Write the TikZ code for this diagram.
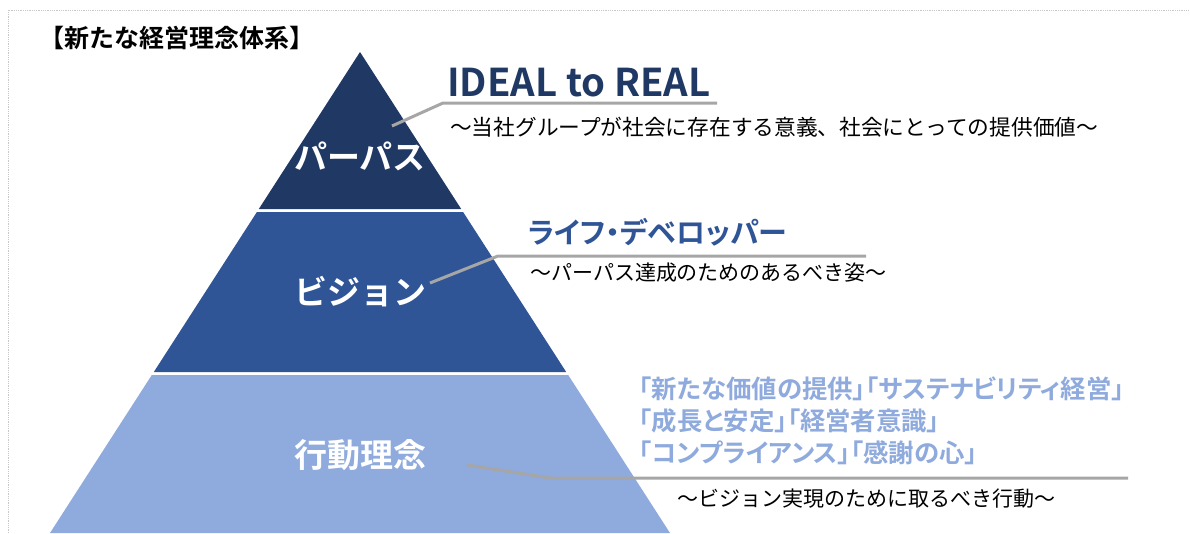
\documentclass[tikz,border=0pt]{standalone}
\usepackage{fontspec}
\setmainfont{Noto Sans CJK JP}[BoldFont={Noto Sans CJK JP Bold}]
\definecolor{navy}{HTML}{203864}
\definecolor{midblue}{HTML}{2F5597}
\definecolor{lightblue}{HTML}{8FAADC}
\definecolor{leadergray}{HTML}{A6A6A6}
\definecolor{framegray}{HTML}{C8C8C8}
\tikzset{
  tiertext/.style={text=white,font=\bfseries\fontsize{33}{33}\selectfont,anchor=base,inner sep=0pt},
  subtext/.style={font=\fontsize{21}{21}\selectfont,anchor=base west,inner sep=0pt},
  valuetext/.style={text=lightblue,font=\bfseries\fontsize{25.4}{25.4}\selectfont\addfontfeatures{RawFeature=+palt},anchor=base west,inner sep=0pt},
  leaderline/.style={draw=leadergray,line width=3pt},
}
\begin{document}
\begin{tikzpicture}[x=1pt,y=-1pt]
\useasboundingbox (0,0) rectangle (1190,533);
\clip (0,0) rectangle (1190,533);
% frame
\draw[framegray,densely dotted,line width=0.8pt] (8,533) -- (8,10) -- (1190,10);
% title
\node[anchor=base west,inner sep=0pt,font=\bfseries\fontsize{25}{25}\selectfont] (title) at (39,47.5) {【新たな経営理念体系】};
% pyramid tiers
\fill[navy] (360,52) -- (461.2,209) -- (258.8,209) -- cycle;
\fill[midblue] (256.9,212) -- (463.1,212) -- (566.2,372) -- (153.8,372) -- cycle;
\fill[lightblue] (151.8,375) -- (568.2,375) -- (670,533) -- (50,533) -- cycle;
% tier labels
\node[tiertext] (purpose) at (360,169.5) {パーパス};
\node[tiertext] (vision) at (360,304.5) {ビジョン};
\node[tiertext] (philo) at (360,467.5) {行動理念};
% purpose texts
\node[anchor=base west,inner sep=0pt,text=navy,font=\bfseries\fontsize{38.3}{38.3}\selectfont] (ideal) at (447,96) {IDEAL to REAL};
\node[subtext,font=\fontsize{21.7}{21.7}\selectfont] (sub1) at (450,135) {～当社グループが社会に存在する意義、社会にとっての提供価値～};
% vision texts
\node[anchor=base west,inner sep=0pt,text=midblue,font=\bfseries\fontsize{29}{29}\selectfont\addfontfeatures{RawFeature=+palt}] (lifedev) at (528,243) {ライフ・デベロッパー};
\node[subtext] (sub2) at (530,280) {～パーパス達成のためのあるべき姿～};
% philosophy texts
\node[valuetext] (val1) at (639,398) {「新たな価値の提供」「サステナビリティ経営」};
\node[valuetext] (val2) at (639,430) {「成長と安定」「経営者意識」};
\node[valuetext] (val3) at (639,462) {「コンプライアンス」「感謝の心」};
\node[subtext] (sub3) at (677,506) {～ビジョン実現のために取るべき行動～};
% leader lines
\coordinate (p1) at (392,126);
\coordinate (b1) at (443,103);
\coordinate (e1) at (717,103);
\coordinate (p2) at (430,283);
\coordinate (b2) at (498,256);
\coordinate (e2) at (866,256);
\coordinate (p3) at (467,465);
\coordinate (b3) at (550,478);
\coordinate (e3) at (1128,478);
\draw[leaderline] (p1) -- (b1) -- (e1);
\draw[leaderline] (p2) -- (b2) -- (e2);
\draw[leaderline] (p3) -- (b3) -- (e3);
\end{tikzpicture}
\end{document}
